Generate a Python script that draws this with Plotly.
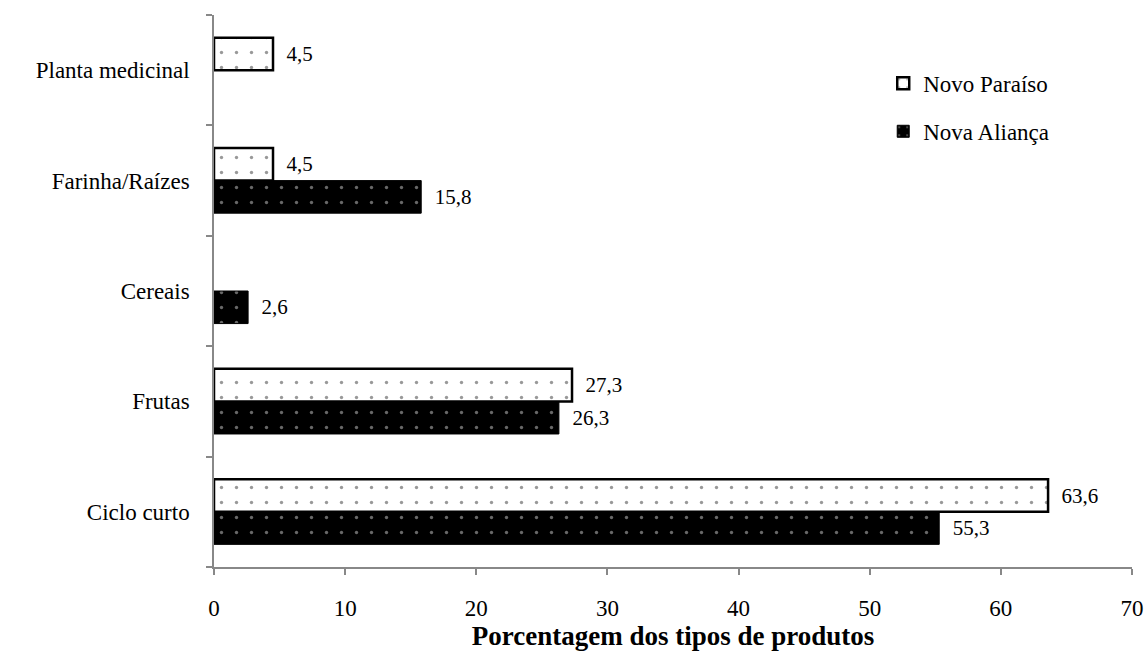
import plotly.graph_objects as go

categories = ["Ciclo curto", "Frutas", "Cereais", "Farinha/Raízes", "Planta medicinal"]
novo_paraiso = [63.6, 27.3, None, 4.5, 4.5]
nova_alianca = [55.3, 26.3, 2.6, 15.8, None]
x_ticks = [0, 10, 20, 30, 40, 50, 60, 70]

def fmt(vals):
    return ["  " + str(v).replace(".", ",") if v is not None else "" for v in vals]

FONT = "Liberation Serif"

fig = go.Figure()
fig.add_trace(go.Bar(
    y=categories, x=nova_alianca, orientation="h", name="Nova Aliança",
    marker=dict(color="black", line=dict(color="black", width=1),
                pattern=dict(shape=".", fgcolor="#d0d0d0", bgcolor="black", size=15, solidity=0.04)),
    text=fmt(nova_alianca), textposition="outside", cliponaxis=False,
    textfont=dict(family=FONT, size=21, color="black"),
    legendrank=2, legendgroup="b",
))
fig.add_trace(go.Bar(
    y=categories, x=novo_paraiso, orientation="h", name="Novo Paraíso",
    marker=dict(color="white", line=dict(color="black", width=2.5),
                pattern=dict(shape=".", fgcolor="#333333", bgcolor="white", size=15, solidity=0.04)),
    text=fmt(novo_paraiso), textposition="outside", cliponaxis=False,
    textfont=dict(family=FONT, size=21, color="black"),
    legendrank=1, legendgroup="a",
))

fig.update_layout(
    width=1147, height=670,
    margin=dict(l=214, r=15, t=15, b=103, autoexpand=False),
    paper_bgcolor="white", plot_bgcolor="white",
    barmode="group", bargap=0.41, bargroupgap=0,
    font=dict(family=FONT, size=23, color="black"),
    legend=dict(x=0.729, y=0.915, xanchor="left", yanchor="top",
                font=dict(family=FONT, size=23, color="black"),
                tracegroupgap=15, bgcolor="rgba(0,0,0,0)"),
    xaxis=dict(range=[0, 70], tickvals=x_ticks, ticktext=[str(t) for t in x_ticks],
               showline=True, linecolor="#888888", linewidth=1.5,
               ticks="outside", ticklen=6, tickcolor="#888888", tickwidth=1.5,
               showgrid=False, zeroline=False,
               tickfont=dict(family=FONT, size=23), ticklabelstandoff=14,
               title=dict(text="<b>Porcentagem dos tipos de produtos</b>",
                          font=dict(family=FONT, size=27), standoff=3)),
    yaxis=dict(categoryorder="array", categoryarray=categories,
               showline=True, linecolor="#888888", linewidth=1.5,
               ticks="outside", ticklen=6, tickcolor="#888888", tickwidth=1.5,
               tickson="boundaries", showgrid=False, zeroline=False,
               tickfont=dict(family=FONT, size=23), ticklabelstandoff=18),
)

fig.write_html("out.html", config={"displayModeBar": False},
               post_script="document.body.style.margin='0px';document.body.style.overflow='hidden';")
